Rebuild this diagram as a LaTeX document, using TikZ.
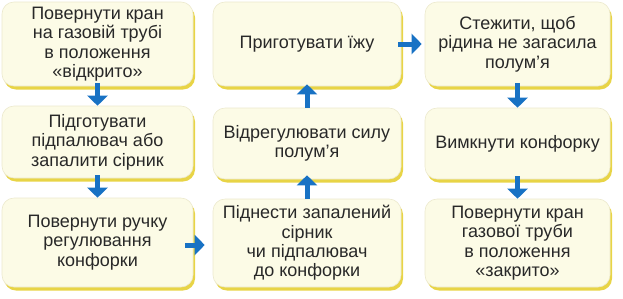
\documentclass[tikz,border=0pt]{standalone}
\usepackage{fontspec}
\setmainfont{Liberation Sans}
\usetikzlibrary{arrows.meta,shadows}
\definecolor{boxfill}{RGB}{252,251,230}
\definecolor{boxline}{RGB}{236,233,205}
\definecolor{shadowy}{RGB}{232,212,70}
\definecolor{arrblue}{RGB}{24,114,196}
\definecolor{txt}{RGB}{40,40,40}
\tikzset{
  stepbox/.style={draw=boxline, line width=0.6pt, fill=boxfill, rounded corners=12pt,
    copy shadow={shadow xshift=2pt, shadow yshift=-3.5pt, fill=shadowy, draw=none},
    align=center, text=txt, font=\fontsize{18}{19.4}\selectfont, inner sep=0pt},
  arr/.style={draw=arrblue, line width=5pt, -{Triangle[width=20pt,length=10pt]}}
}
\begin{document}
\begin{tikzpicture}[x=1pt,y=1pt]
\useasboundingbox (0,0) rectangle (623,-298);
% column 1
\node[stepbox, minimum width=191pt, minimum height=84pt] (a1) at (97.5,-44)
  {Повернути кран\\на газовій трубі\\в положення\\«відкрито»};
\node[stepbox, minimum width=191pt, minimum height=72pt] (a2) at (97.5,-142)
  {Підготувати\\підпалювач або\\запалити сірник};
\node[stepbox, minimum width=191pt, minimum height=89pt] (a3) at (97.5,-242.5)
  {Повернути ручку\\регулювання\\конфорки};
% column 2
\node[stepbox, minimum width=188pt, minimum height=84pt] (b1) at (307,-44)
  {Приготувати їжу};
\node[stepbox, minimum width=188pt, minimum height=71pt] (b2) at (307,-143.5)
  {Відрегулювати силу\\полум’я};
\node[stepbox, minimum width=188pt, minimum height=88pt] (b3) at (307,-243)
  {Піднести запалений\\сірник\\чи підпалювач\\до конфорки};
% column 3
\node[stepbox, minimum width=185pt, minimum height=84pt] (c1) at (517.5,-44)
  {Стежити, щоб\\рідина не загасила\\полум’я};
\node[stepbox, minimum width=185pt, minimum height=71pt] (c2) at (517.5,-143.5)
  {Вимкнути конфорку};
\node[stepbox, minimum width=185pt, minimum height=88pt] (c3) at (517.5,-243)
  {Повернути кран\\газової труби\\в положення\\«закрито»};
% arrows
\draw[arr] ([yshift=3pt]a1.south) -- (a2.north);
\draw[arr] ([yshift=3pt]a2.south) -- (a3.north);
\draw[arr] ([xshift=-8pt,yshift=-2.5pt]a3.east) -- ([xshift=-8pt,yshift=-2.5pt]a3.east -| b3.west);
\draw[arr] (b3.north) -- ([yshift=4pt]b2.south);
\draw[arr] (b2.north) -- ([yshift=2pt]b1.south);
\draw[arr] ([xshift=-3pt]b1.east) -- ([xshift=-3pt]b1.east -| c1.west);
\draw[arr] ([yshift=3pt]c1.south) -- (c2.north);
\draw[arr] ([yshift=3pt]c2.south) -- (c3.north);
\end{tikzpicture}
\end{document}
